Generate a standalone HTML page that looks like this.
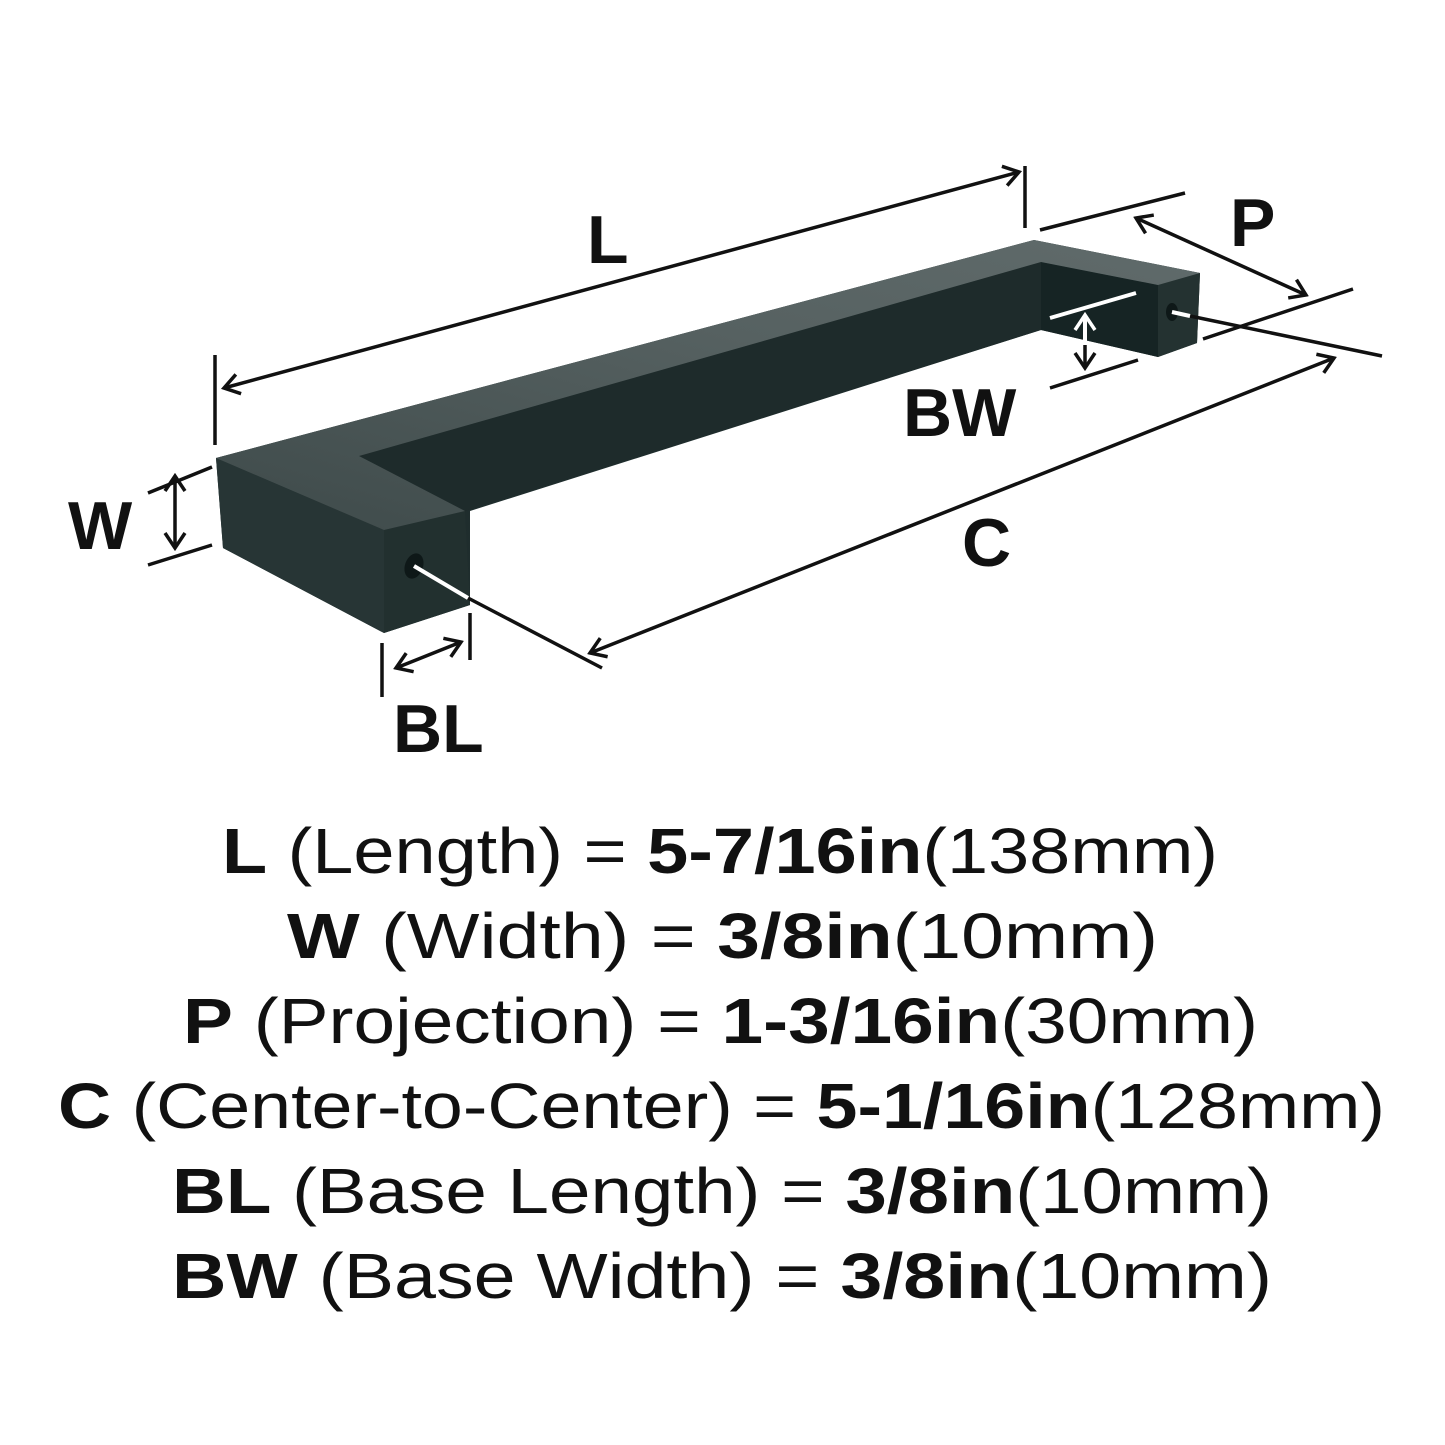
<!DOCTYPE html>
<html><head><meta charset="utf-8"><style>
html,body{margin:0;padding:0;background:#fff;}
svg{display:block;}
</style></head><body>
<svg width="1445" height="1445" viewBox="0 0 1445 1445" xmlns="http://www.w3.org/2000/svg">
<defs>
<linearGradient id="topg" x1="0" y1="1" x2="1" y2="0">
<stop offset="0" stop-color="#3e4a4a"/><stop offset="0.6" stop-color="#566161"/><stop offset="1" stop-color="#606b6b"/>
</linearGradient>
<marker id="ah" markerWidth="20" markerHeight="24" refX="17" refY="12" orient="auto-start-reverse" markerUnits="userSpaceOnUse">
<path d="M2,2 L17,12 L2,22" fill="none" stroke="#111" stroke-width="3.5"/>
</marker>
<marker id="ahw" markerWidth="20" markerHeight="24" refX="17" refY="12" orient="auto-start-reverse" markerUnits="userSpaceOnUse">
<path d="M2,2 L17,12 L2,22" fill="none" stroke="#fff" stroke-width="3.5"/>
</marker>
</defs>
<rect width="1445" height="1445" fill="#fff"/>

<polygon points="216,458 1034,240 1200,273 1197,343 1158,357 1041,330 470,511 470,605 384,633 223,548" fill="#1f2d2d"/>
<polygon points="216,458 384,530 384,633 223,548" fill="#273535"/>
<polygon points="384,530 465,511 470,605 384,633" fill="#22302f"/>
<polygon points="359,456 1041,262 1041,330 465,511" fill="#1e2b2b"/>
<polygon points="1041,262 1158,285 1158,357 1041,330" fill="#162424"/>
<polygon points="1158,285 1200,273 1197,343 1158,357" fill="#243231"/>
<polygon points="216,458 1034,240 1200,273 1158,285 1041,262 359,456 465,511 384,530" fill="url(#topg)"/>
<ellipse cx="414" cy="566" rx="9" ry="13" fill="#0e1818" transform="rotate(20 414 566)"/>
<ellipse cx="1172" cy="312" rx="6" ry="9" fill="#0e1818"/>

<g stroke="#111" stroke-width="3.5" fill="none">
<line x1="215" y1="355" x2="215" y2="445"/>
<line x1="1025" y1="166" x2="1025" y2="228"/>
<line x1="224" y1="388" x2="1019" y2="172" marker-start="url(#ah)" marker-end="url(#ah)"/>
<line x1="1040" y1="230" x2="1185" y2="193"/>
<line x1="1203" y1="339" x2="1353" y2="289"/>
<line x1="1136" y1="218" x2="1306" y2="295" marker-start="url(#ah)" marker-end="url(#ah)"/>
<line x1="1190" y1="316" x2="1382" y2="356"/>
<line x1="468" y1="598" x2="602" y2="668"/>
<line x1="590" y1="653" x2="1334" y2="358" marker-start="url(#ah)" marker-end="url(#ah)"/>
<line x1="1050" y1="388" x2="1138" y2="360"/>
<line x1="1085" y1="345" x2="1085" y2="368" marker-end="url(#ah)"/>
<line x1="148" y1="493" x2="212" y2="467"/>
<line x1="148" y1="565" x2="212" y2="545"/>
<line x1="175" y1="476" x2="175" y2="548" marker-start="url(#ah)" marker-end="url(#ah)"/>
<line x1="382" y1="643" x2="382" y2="697"/>
<line x1="470" y1="613" x2="470" y2="660"/>
<line x1="396" y1="668" x2="461" y2="642" marker-start="url(#ah)" marker-end="url(#ah)"/>
</g>
<g stroke="#fff" stroke-width="4" fill="none">
<line x1="1050" y1="318" x2="1136" y2="293"/>
<line x1="1085" y1="345" x2="1085" y2="315" marker-end="url(#ahw)"/>
<line x1="1172" y1="312" x2="1190" y2="316"/>
<line x1="414" y1="566" x2="468" y2="598"/>
</g>

<g font-family="Liberation Sans, sans-serif" fill="#111" font-weight="bold" font-size="68">
<text x="587" y="263">L</text>
<text x="1230" y="246">P</text>
<text x="903" y="436">BW</text>
<text x="962" y="566">C</text>
<text x="68" y="549">W</text>
<text x="393" y="752">BL</text>
</g>

<g font-family="Liberation Sans, sans-serif" fill="#111" font-size="64">
<text x="222" y="873" textLength="996" lengthAdjust="spacingAndGlyphs"><tspan font-weight="bold">L</tspan> (Length) = <tspan font-weight="bold">5-7/16in</tspan>(138mm)</text>
<text x="287" y="958" textLength="871" lengthAdjust="spacingAndGlyphs"><tspan font-weight="bold">W</tspan> (Width) = <tspan font-weight="bold">3/8in</tspan>(10mm)</text>
<text x="183" y="1043" textLength="1075" lengthAdjust="spacingAndGlyphs"><tspan font-weight="bold">P</tspan> (Projection) = <tspan font-weight="bold">1-3/16in</tspan>(30mm)</text>
<text x="58" y="1128" textLength="1327" lengthAdjust="spacingAndGlyphs"><tspan font-weight="bold">C</tspan> (Center-to-Center) = <tspan font-weight="bold">5-1/16in</tspan>(128mm)</text>
<text x="172" y="1213" textLength="1100" lengthAdjust="spacingAndGlyphs"><tspan font-weight="bold">BL</tspan> (Base Length) = <tspan font-weight="bold">3/8in</tspan>(10mm)</text>
<text x="172" y="1298" textLength="1100" lengthAdjust="spacingAndGlyphs"><tspan font-weight="bold">BW</tspan> (Base Width) = <tspan font-weight="bold">3/8in</tspan>(10mm)</text>
</g>
</svg>
</body></html>
